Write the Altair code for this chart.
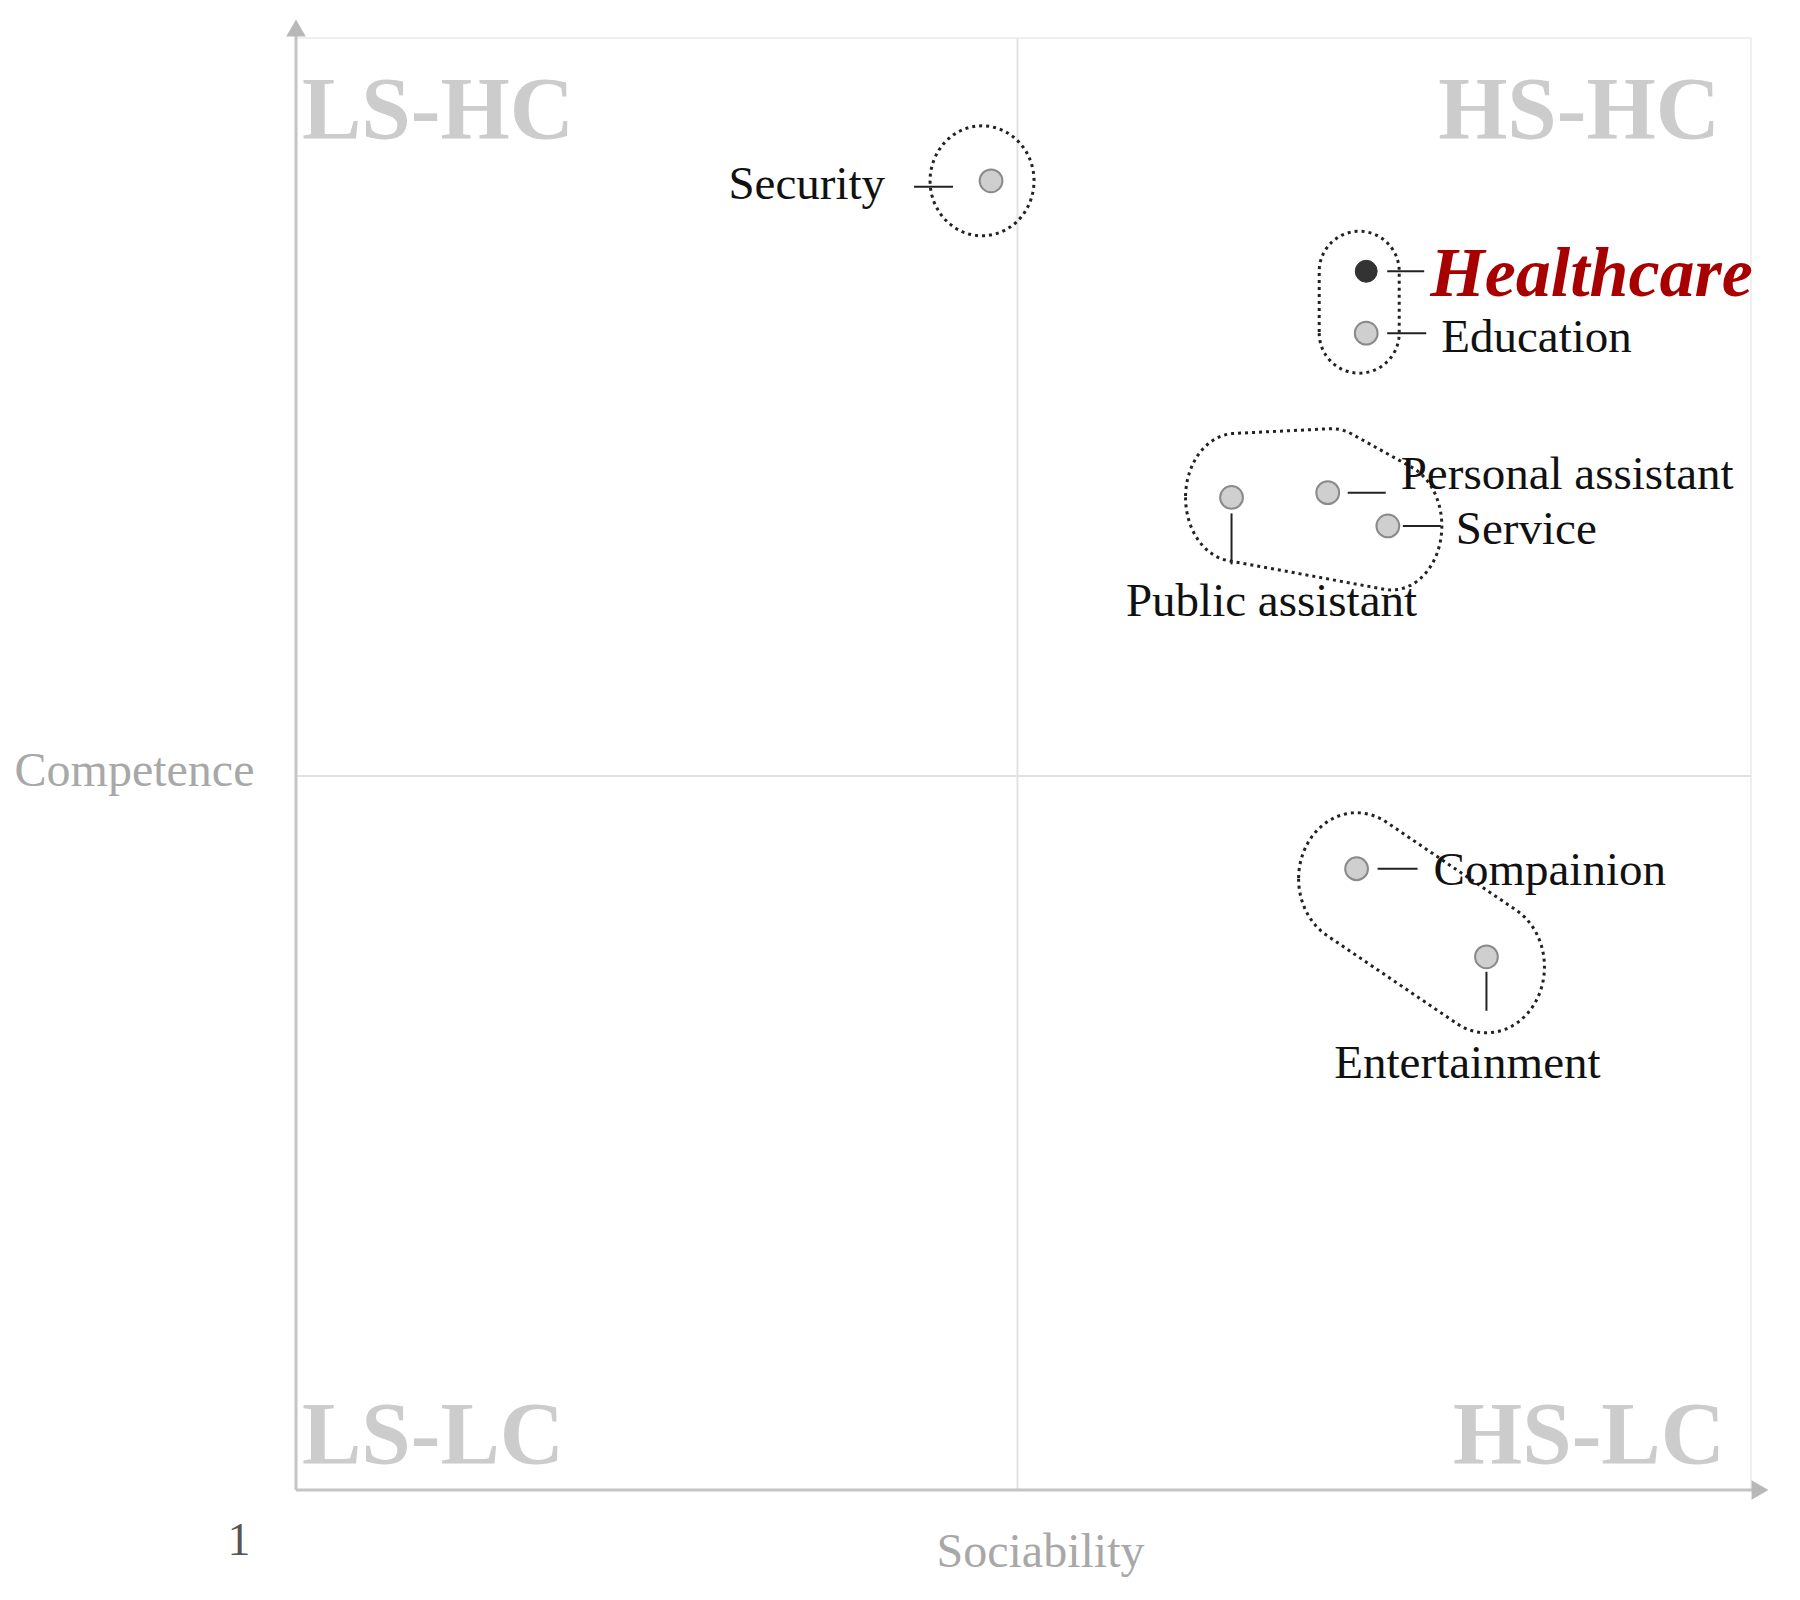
import altair as alt
import pandas as pd
import numpy as np

# ---------------- data ----------------
names = ["Security", "Healthcare", "Education", "Personal assistant",
         "Service", "Public assistant", "Compainion", "Entertainment"]
sociability = [3.89, 5.45, 5.45, 5.29, 5.54, 4.89, 5.41, 5.95]
competence = [6.50, 6.12, 5.86, 5.19, 5.05, 5.17, 3.61, 3.24]
groups = [1, 2, 2, 3, 3, 3, 4, 4]
highlighted = "Healthcare"
quadrants = ["LS-HC", "HS-HC", "LS-LC", "HS-LC"]
origin_label = "1"

# ---------------- layout ----------------
X_DOMAIN = [1, 7.05]
Y_DOMAIN = [1, 7.1]
MID = 4
W, H = 1455, 1452
PX_X = W / (X_DOMAIN[1] - X_DOMAIN[0])
PX_Y = H / (Y_DOMAIN[1] - Y_DOMAIN[0])
FONT = "Liberation Serif"

# label offsets in pixels (dx right, dy down), alignment, leader (dx1, dy1, dx2, dy2)
label_dx = [-106, 64, 75, 73, 68, 40, 77, -19]
label_dy = [4, 4, 5, -18, 4, 105, 2, 107]
label_align = ["right", "left", "left", "left", "left", "center", "left", "center"]
leader = [(-77, 6, -38, 6), (21, 0, 58, 0), (21, 0, 60, 0), (20, 0, 58, 0),
          (15, 0, 53, 0), (0, 16, 0, 67), (21, 0, 61, 0), (0, 15, 0, 54)]
# enclosure padding in pixels: (rx, ry, shift dx, shift dy-down)
hull_pad = {1: (52, 55, -9, 0), 2: (40, 40, -7, 0), 3: (50, 64, 4, 0), 4: (58, 66, 0, 10)}

df = pd.DataFrame({"name": names, "x": sociability, "y": competence, "group": groups,
                   "align": label_align})
df["lx"] = df["x"] + np.array(label_dx) / PX_X
df["ly"] = df["y"] - np.array(label_dy) / PX_Y
df["x1"] = df["x"] + np.array([l[0] for l in leader]) / PX_X
df["y1"] = df["y"] - np.array([l[1] for l in leader]) / PX_Y
df["x2"] = df["x"] + np.array([l[2] for l in leader]) / PX_X
df["y2"] = df["y"] - np.array([l[3] for l in leader]) / PX_Y


def convex_hull(points):
    pts = sorted(set(points))

    def cross(o, a, b):
        return (a[0] - o[0]) * (b[1] - o[1]) - (a[1] - o[1]) * (b[0] - o[0])

    lower = []
    for p in pts:
        while len(lower) >= 2 and cross(lower[-2], lower[-1], p) <= 0:
            lower.pop()
        lower.append(p)
    upper = []
    for p in reversed(pts):
        while len(upper) >= 2 and cross(upper[-2], upper[-1], p) <= 0:
            upper.pop()
        upper.append(p)
    return lower[:-1] + upper[:-1]


hull_rows = []
for g in sorted(set(groups)):
    rx, ry, sx, sy = hull_pad[g]
    samples = []
    for xi, yi, gi in zip(sociability, competence, groups):
        if gi != g:
            continue
        for t in np.linspace(0, 2 * np.pi, 96, endpoint=False):
            samples.append((round(xi * PX_X + sx + rx * np.cos(t), 3),
                            round(yi * PX_Y - sy + ry * np.sin(t), 3)))
    hp = convex_hull(samples)
    hp = hp + [hp[0]]
    for i, (hx, hy) in enumerate(hp):
        hull_rows.append({"group": g, "order": i, "hx": hx / PX_X, "hy": hy / PX_Y})
hull_df = pd.DataFrame(hull_rows)

xs = alt.Scale(domain=X_DOMAIN, nice=False, zero=False)
ys = alt.Scale(domain=Y_DOMAIN, nice=False, zero=False)

x_axis = alt.Axis(title="Sociability", labels=False, ticks=False, domain=False, grid=False,
                  titleFont=FONT, titleFontSize=48, titleFontWeight="normal", titleColor="#a8a8a8",
                  titleX=744, titleY=62, titleAlign="center", titleBaseline="middle")
y_axis = alt.Axis(title="Competence", labels=False, ticks=False, domain=False, grid=False,
                  titleFont=FONT, titleFontSize=48, titleFontWeight="normal", titleColor="#a8a8a8",
                  titleAngle=0, titleX=-162, titleY=733, titleAlign="center", titleBaseline="middle")


def X(field):
    return alt.X(field, type="quantitative", scale=xs, axis=x_axis)


def Y(field):
    return alt.Y(field, type="quantitative", scale=ys, axis=y_axis)


# frame, mid lines, axes
arrow_top = Y_DOMAIN[1] + 10 / PX_Y
arrow_right = X_DOMAIN[1] + 9 / PX_X
lines_df = pd.DataFrame([
    {"kind": "frame", "x1": X_DOMAIN[0], "x2": X_DOMAIN[1], "y1": Y_DOMAIN[1], "y2": Y_DOMAIN[1]},
    {"kind": "frame", "x1": X_DOMAIN[1], "x2": X_DOMAIN[1], "y1": Y_DOMAIN[0], "y2": Y_DOMAIN[1]},
    {"kind": "mid", "x1": MID, "x2": MID, "y1": Y_DOMAIN[0], "y2": Y_DOMAIN[1]},
    {"kind": "mid", "x1": X_DOMAIN[0], "x2": X_DOMAIN[1], "y1": MID, "y2": MID},
    {"kind": "axis", "x1": X_DOMAIN[0], "x2": X_DOMAIN[0], "y1": Y_DOMAIN[0], "y2": arrow_top},
    {"kind": "axis", "x1": X_DOMAIN[0], "x2": arrow_right, "y1": Y_DOMAIN[0], "y2": Y_DOMAIN[0]},
])
line_styles = {"frame": ("#f0f0f0", 2), "mid": ("#e2e2e2", 2), "axis": ("#c4c4c4", 3)}
line_layers = [
    alt.Chart(lines_df).transform_filter(alt.datum.kind == k).mark_rule(color=c, strokeWidth=w)
    .encode(x=X("x1"), x2="x2", y=Y("y1"), y2="y2")
    for k, (c, w) in line_styles.items()
]

arrows_df = pd.DataFrame([
    {"shape": "triangle-up", "x": X_DOMAIN[0], "y": arrow_top},
    {"shape": "triangle-right", "x": arrow_right, "y": Y_DOMAIN[0]},
])
arrows = alt.Chart(arrows_df).mark_point(filled=True, color="#b8b8b8", opacity=1, size=380).encode(
    x=X("x"), y=Y("y"),
    shape=alt.Shape("shape:N", scale=alt.Scale(domain=["triangle-up", "triangle-right"],
                                                range=["triangle-up", "triangle-right"]), legend=None))

# quadrant labels
quad_df = pd.DataFrame({
    "label": quadrants,
    "qx": [X_DOMAIN[0] + 6 / PX_X, X_DOMAIN[1] - 31 / PX_X, X_DOMAIN[0] + 6 / PX_X, X_DOMAIN[1] - 26 / PX_X],
    "qy": [Y_DOMAIN[1] - 73 / PX_Y, Y_DOMAIN[1] - 73 / PX_Y, Y_DOMAIN[0] + 54 / PX_Y, Y_DOMAIN[0] + 54 / PX_Y],
    "side": ["left", "right", "left", "right"],
})
quad_layers = [
    alt.Chart(quad_df).transform_filter(alt.datum.side == s)
    .mark_text(font=FONT, fontSize=89, fontWeight="bold", color="#cccccc", align=s, baseline="middle")
    .encode(x=X("qx"), y=Y("qy"), text="label:N")
    for s in ["left", "right"]
]

origin_df = pd.DataFrame({"t": [origin_label], "ox": [X_DOMAIN[0] - 57 / PX_X], "oy": [Y_DOMAIN[0] - 51 / PX_Y]})
origin = alt.Chart(origin_df).mark_text(font=FONT, fontSize=46, color="#555555", align="center",
                                        baseline="middle").encode(x=X("ox"), y=Y("oy"), text="t:N")

hulls = alt.Chart(hull_df).mark_line(color="#222222", strokeWidth=3, strokeDash=[3, 4]).encode(
    x=X("hx"), y=Y("hy"), detail="group:N", order="order:Q")

leaders = alt.Chart(df).mark_rule(color="#222222", strokeWidth=2).encode(
    x=X("x1"), x2="x2", y=Y("y1"), y2="y2")

pts = alt.Chart(df).transform_filter(alt.datum.name != highlighted).mark_point(
    filled=True, shape="circle", size=520, fill="#cfcfcf", stroke="#8a8a8a", strokeWidth=2, opacity=1
).encode(x=X("x"), y=Y("y"))
pt_hi = alt.Chart(df).transform_filter(alt.datum.name == highlighted).mark_point(
    filled=True, shape="circle", size=480, fill="#333333", stroke="#333333", strokeWidth=1, opacity=1
).encode(x=X("x"), y=Y("y"))

text_layers = [
    alt.Chart(df).transform_filter((alt.datum.align == a) & (alt.datum.name != highlighted))
    .mark_text(font=FONT, fontSize=47, color="#111111", align=a, baseline="middle")
    .encode(x=X("lx"), y=Y("ly"), text="name:N")
    for a in ["left", "right", "center"]
]
text_hi = alt.Chart(df).transform_filter(alt.datum.name == highlighted).mark_text(
    font=FONT, fontSize=70, fontWeight="bold", fontStyle="italic", color="#a80000",
    align="left", baseline="middle").encode(x=X("lx"), y=Y("ly"), text="name:N")

chart = alt.layer(
    *line_layers, arrows, *quad_layers, origin, hulls, leaders, pts, pt_hi, *text_layers, text_hi
).properties(
    width=W, height=H,
    autosize=alt.AutoSizeParams(type="none"),
    padding={"left": 288, "top": 30, "right": 40, "bottom": 100},
).configure_view(stroke=None)

chart.save("out.html", embed_options={"renderer": "svg", "actions": False})
